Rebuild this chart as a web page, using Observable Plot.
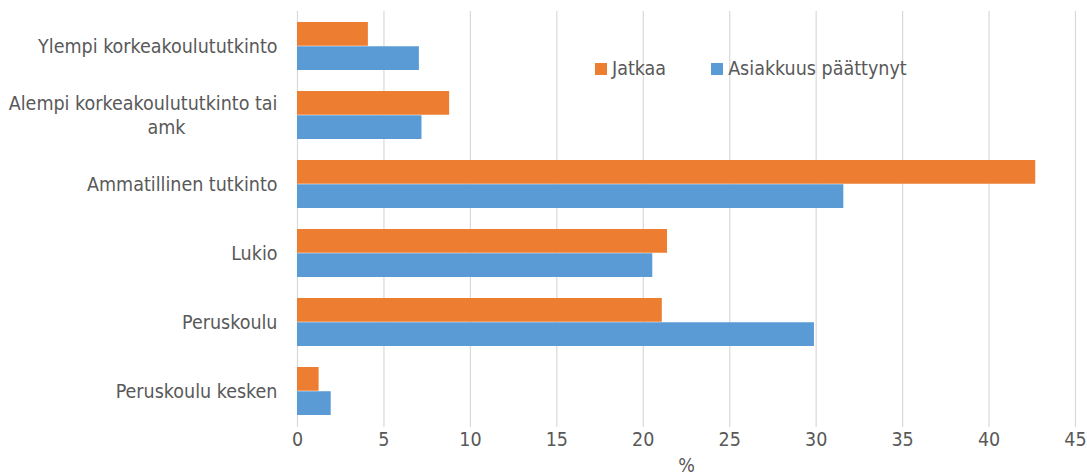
<!DOCTYPE html>
<html>
<head>
<meta charset="utf-8">
<script src="https://cdn.jsdelivr.net/npm/d3@7"></script>
<script src="https://cdn.jsdelivr.net/npm/@observablehq/plot@0.6"></script>
<style>
  html, body { margin: 0; padding: 0; background: #fff; }
  #wrap { position: relative; width: 1087px; height: 475px; font-family: "Liberation Sans Narrow", "DejaVu Sans Condensed", sans-serif; }
  #legend { position: absolute; left: 595px; top: 57px; display: flex; align-items: center; font-size: 19.5px; color: #595959; white-space: nowrap; }
  #legend .sw { display: inline-block; width: 12px; height: 12px; margin-right: 5px; }
  #legend .item { display: flex; align-items: center; margin-right: 45px; }
</style>
</head>
<body>
<div id="wrap"></div>
<script>
const categories = [
  "Ylempi korkeakoulututkinto",
  "Alempi korkeakoulututkinto tai amk",
  "Ammatillinen tutkinto",
  "Lukio",
  "Peruskoulu",
  "Peruskoulu kesken"
];
const wrappedLabel = ["Alempi korkeakoulututkinto tai", "amk"];
const seriesNames = ["Jatkaa", "Asiakkuus päättynyt"];
const seriesColors = ["#ED7D31", "#5B9BD5"];
const jatkaa = [4.1, 8.8, 42.7, 21.4, 21.1, 1.25];
const paattynyt = [7.05, 7.2, 31.6, 20.55, 29.9, 1.95];
const xTicks = [0, 5, 10, 15, 20, 25, 30, 35, 40, 45];

const rowsJ = categories.map((c, i) => ({category: c, value: jatkaa[i]}));
const rowsP = categories.map((c, i) => ({category: c, value: paattynyt[i]}));

const textColor = "#595959";
const gridColor = "#D9D9D9";
const fs = 19.5;

const chart = Plot.plot({
  width: 1087,
  height: 475,
  marginLeft: 297,
  marginRight: 12,
  marginTop: 11,
  marginBottom: 48,
  style: {fontFamily: "'Liberation Sans Narrow', 'DejaVu Sans Condensed', sans-serif", fontSize: fs + "px", color: textColor, background: "#fff"},
  x: {domain: [0, 45], ticks: xTicks},
  y: {domain: categories, paddingInner: 0.3, paddingOuter: 0.15},
  marks: [
    Plot.ruleX(xTicks, {stroke: gridColor, strokeWidth: 1.2}),
    Plot.barX(rowsJ, {y: "category", x: "value", fill: seriesColors[0], insetBottom: 24.25}),
    Plot.barX(rowsP, {y: "category", x: "value", fill: seriesColors[1], insetTop: 24.25}),
    Plot.axisX({ticks: xTicks, tickSize: 0, tickPadding: 5, fill: textColor, fontSize: fs,
      label: "%", labelAnchor: "center", labelArrow: "none", labelOffset: 44}),
    Plot.axisY({tickSize: 0, tickPadding: 20, fill: textColor, fontSize: fs,
      tickFormat: d => d === categories[1] ? "" : d, label: null}),
    Plot.text([categories[1]], {y: d => d, text: () => wrappedLabel[0], frameAnchor: "left", dx: -20, dy: -12,
      textAnchor: "end", fill: textColor, fontSize: fs}),
    Plot.text([categories[1]], {y: d => d, text: () => wrappedLabel[1], frameAnchor: "left", dx: -131, dy: 12,
      textAnchor: "middle", fill: textColor, fontSize: fs})
  ]
});

const wrap = document.getElementById("wrap");
wrap.appendChild(chart);
const legend = document.createElement("div");
legend.id = "legend";
seriesNames.forEach((n, i) => {
  const item = document.createElement("span");
  item.className = "item";
  const sw = document.createElement("span");
  sw.className = "sw";
  sw.style.background = seriesColors[i];
  item.appendChild(sw);
  item.appendChild(document.createTextNode(n));
  legend.appendChild(item);
});
wrap.appendChild(legend);
</script>
</body>
</html>
